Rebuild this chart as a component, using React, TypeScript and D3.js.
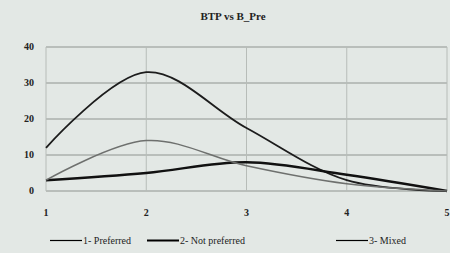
import { useEffect, useRef } from 'react';
import * as d3 from 'd3';

const categories = [1, 2, 3, 4, 5];
const yTicks = [0, 10, 20, 30, 40];
const preferred = [12, 33, 17.5, 3, 0];
const notPreferred = [3, 5, 8, 4.5, 0];
const mixed = [3, 14, 7, 2, 0];

const seriesList = [
    { name: '1- Preferred', values: preferred, color: '#1c1c1c', width: 1.8 },
    { name: '2- Not preferred', values: notPreferred, color: '#111', width: 2.4 },
    { name: '3- Mixed', values: mixed, color: '#6e706e', width: 1.5 },
];

export default function App() {
    const svgRef = useRef<SVGSVGElement>(null);
    const width = 450;
    const height = 253;

    useEffect(() => {
        const svg = d3.select(svgRef.current);
        svg.selectAll('*').remove();

        const margin = { top: 47, right: 3, bottom: 62, left: 46 };
        const w = width - margin.left - margin.right;
        const h = height - margin.top - margin.bottom;
        const font = '"Liberation Serif", "DejaVu Serif", serif';

        svg.append('rect').attr('width', width).attr('height', height).attr('fill', '#e3e8e5');

        svg.append('text')
            .attr('x', 233)
            .attr('y', 20)
            .attr('text-anchor', 'middle')
            .style('font-family', font)
            .style('font-size', '11px')
            .style('font-weight', 'bold')
            .style('fill', '#222')
            .text('BTP vs B_Pre');

        const g = svg.append('g').attr('transform', `translate(${margin.left},${margin.top})`);

        const x = d3.scaleLinear().domain([1, 5]).range([0, w]);
        const y = d3.scaleLinear().domain([0, 40]).range([h, 0]);

        // grid
        g.append('g')
            .selectAll('line')
            .data(yTicks)
            .enter().append('line')
            .attr('x1', 0).attr('x2', w)
            .attr('y1', d => y(d)).attr('y2', d => y(d))
            .attr('stroke', '#8f9490')
            .attr('stroke-width', 1);

        g.append('g')
            .selectAll('line')
            .data(categories)
            .enter().append('line')
            .attr('x1', d => x(d)).attr('x2', d => x(d))
            .attr('y1', 0).attr('y2', h)
            .attr('stroke', '#b7bcb8')
            .attr('stroke-width', 1);

        // tick labels
        g.append('g')
            .selectAll('text')
            .data(yTicks)
            .enter().append('text')
            .attr('x', -12)
            .attr('y', d => y(d) + 3)
            .attr('text-anchor', 'end')
            .style('font-family', font)
            .style('font-size', '10px')
            .style('font-weight', 'bold')
            .style('fill', '#222')
            .text(d => d);

        g.append('g')
            .selectAll('text')
            .data(categories)
            .enter().append('text')
            .attr('x', d => x(d))
            .attr('y', h + 25)
            .attr('text-anchor', 'middle')
            .style('font-family', font)
            .style('font-size', '10px')
            .style('font-weight', 'bold')
            .style('fill', '#222')
            .text(d => d);

        const line = d3.line<number>()
            .x((_, i) => x(categories[i]))
            .y(d => y(d))
            .curve(d3.curveCatmullRom.alpha(0.5));

        seriesList.forEach(s => {
            g.append('path')
                .datum(s.values)
                .attr('fill', 'none')
                .attr('stroke', s.color)
                .attr('stroke-width', s.width)
                .attr('d', line);
        });

        // legend
        const legendX = [50, 147, 336];
        const legend = svg.append('g').attr('transform', 'translate(0, 240.5)');
        seriesList.forEach((s, i) => {
            const row = legend.append('g').attr('transform', `translate(${legendX[i]}, 0)`);
            row.append('line')
                .attr('x1', 0).attr('x2', 32)
                .attr('y1', 0).attr('y2', 0)
                .attr('stroke', '#000')
                .attr('stroke-width', i === 1 ? 2 : 1.2);
            row.append('text')
                .attr('x', 33)
                .attr('y', 3.5)
                .style('font-family', font)
                .style('font-size', '10px')
                .style('fill', '#222')
                .text(s.name);
        });
    }, []);

    return (
        <svg
            ref={svgRef}
            width={width}
            height={height}
            style={{ position: 'absolute', left: 0, top: 0 }}
        />
    );
}
